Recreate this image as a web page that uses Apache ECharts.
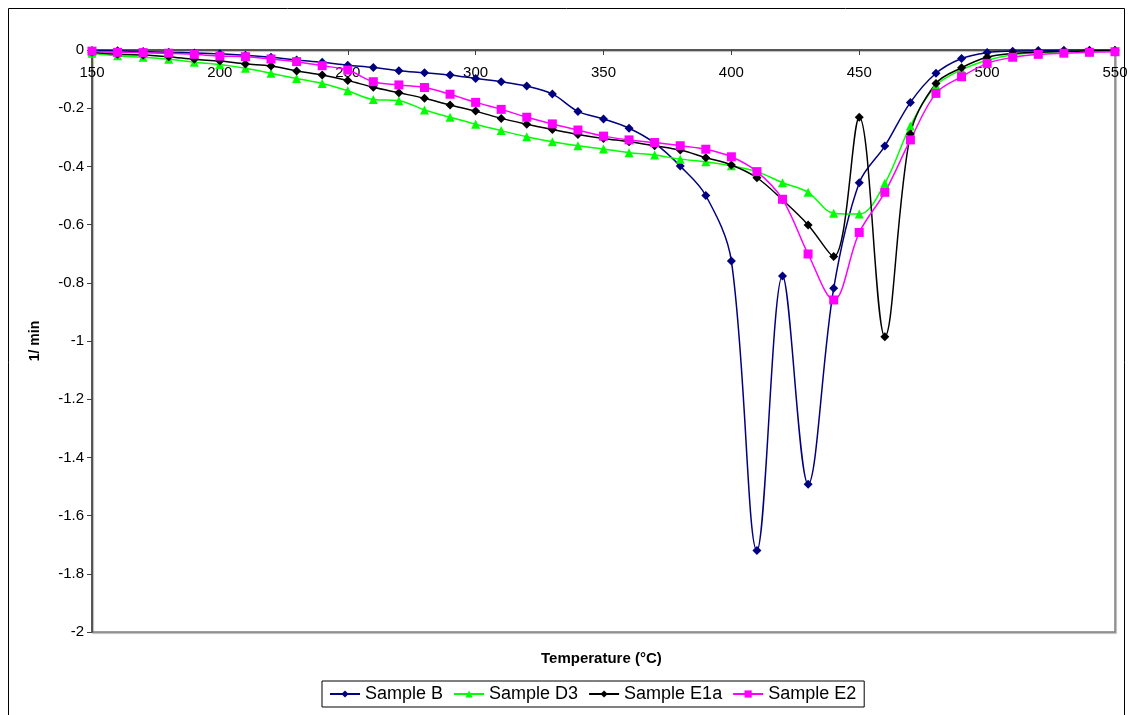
<!DOCTYPE html>
<html>
<head>
<meta charset="utf-8">
<script src="https://cdn.jsdelivr.net/npm/echarts@6/dist/echarts.min.js"></script>
<style>
  html, body { margin: 0; padding: 0; background: #fff; }
  #chart { width: 1132px; height: 715px; }
</style>
</head>
<body>
<div id="chart"></div>
<script>
// Temperature steps (°C)
const temperatures = [150,160,170,180,190,200,210,220,230,240,250,260,270,280,290,300,310,320,330,340,350,
  360,370,380,390,400,410,420,430,440,450,460,470,480,490,500,510,520,530,540,550];

// Rate values (1/min) per sample
const sampleB = [-0.002,-0.003,-0.005,-0.008,-0.010,-0.013,-0.018,-0.025,-0.034,-0.042,-0.052,-0.060,-0.071,-0.078,-0.086,-0.098,-0.109,-0.124,-0.151,-0.211,-0.237,
  -0.269,-0.320,-0.399,-0.500,-0.725,-1.720,-0.777,-1.492,-0.819,-0.456,-0.330,-0.180,-0.080,-0.029,-0.009,-0.004,-0.002,-0.001,-0.001,-0.001];
const sampleD3 = [-0.011,-0.020,-0.025,-0.032,-0.042,-0.050,-0.063,-0.080,-0.098,-0.115,-0.140,-0.170,-0.174,-0.206,-0.231,-0.255,-0.277,-0.298,-0.315,-0.329,-0.340,
  -0.353,-0.361,-0.375,-0.384,-0.398,-0.418,-0.456,-0.489,-0.561,-0.564,-0.458,-0.261,-0.122,-0.068,-0.035,-0.016,-0.009,-0.005,-0.003,-0.002];
const sampleE1a = [-0.008,-0.015,-0.017,-0.023,-0.032,-0.038,-0.048,-0.055,-0.072,-0.086,-0.105,-0.128,-0.147,-0.166,-0.189,-0.210,-0.235,-0.255,-0.273,-0.290,-0.304,
  -0.315,-0.329,-0.344,-0.370,-0.395,-0.439,-0.515,-0.601,-0.710,-0.231,-0.985,-0.289,-0.115,-0.061,-0.025,-0.012,-0.008,-0.005,-0.003,-0.002];
const sampleE2 = [-0.004,-0.008,-0.009,-0.011,-0.015,-0.021,-0.023,-0.031,-0.040,-0.054,-0.069,-0.109,-0.120,-0.129,-0.152,-0.180,-0.204,-0.231,-0.254,-0.275,-0.296,
  -0.309,-0.318,-0.329,-0.341,-0.367,-0.418,-0.513,-0.701,-0.859,-0.627,-0.489,-0.309,-0.149,-0.092,-0.046,-0.025,-0.015,-0.011,-0.008,-0.006];

const xTicks = { min: 150, max: 550, step: 50 };
const yTicks = { min: -2, max: 0, step: 0.2 };

const FONT = 'Arial, "Liberation Sans", sans-serif';

function pairs(vals) {
  return temperatures.map((t, i) => [t, vals[i]]);
}

function makeSeries(name, vals, color, symbol, size) {
  return {
    name: name,
    type: 'line',
    data: pairs(vals),
    smooth: 0.35,
    symbol: symbol,
    symbolSize: size,
    lineStyle: { color: color, width: 1.5 },
    itemStyle: { color: color },
    emphasis: { disabled: true },
    z: 3
  };
}

const chart = echarts.init(document.getElementById('chart'), null, { renderer: 'canvas' });

chart.setOption({
  animation: false,
  backgroundColor: '#ffffff',
  textStyle: { fontFamily: FONT },
  grid: {
    left: 92, right: 17, top: 50, bottom: 83,
    show: true, borderColor: '#808080', borderWidth: 1.5,
    shadowColor: 'rgba(0,0,0,0.35)', shadowOffsetX: 1, shadowOffsetY: 1, shadowBlur: 1
  },
  xAxis: {
    type: 'value',
    position: 'top',
    min: xTicks.min, max: xTicks.max, interval: xTicks.step,
    axisLine: { onZero: false, lineStyle: { color: '#404040', width: 1.5 } },
    axisTick: { show: true, inside: true, length: 5, lineStyle: { color: '#404040' } },
    axisLabel: { inside: true, margin: 15, color: '#000', fontSize: 15, fontFamily: FONT },
    splitLine: { show: false }
  },
  yAxis: {
    type: 'value',
    min: yTicks.min, max: yTicks.max, interval: yTicks.step,
    name: '1/ min',
    nameLocation: 'middle',
    nameGap: 50,
    nameRotate: 90,
    nameTextStyle: { fontWeight: 'bold', fontSize: 14, color: '#000', fontFamily: FONT },
    axisLine: { onZero: false, lineStyle: { color: '#404040', width: 1.5 } },
    axisTick: { show: true, inside: false, length: 5, lineStyle: { color: '#404040' } },
    axisLabel: { margin: 8, color: '#000', fontSize: 15, fontFamily: FONT },
    splitLine: { show: false }
  },
  legend: {
    left: 322,
    bottom: 8,
    orient: 'horizontal',
    borderColor: '#000',
    borderWidth: 1,
    borderRadius: 0,
    padding: [4, 8, 4, 7],
    itemGap: 10,
    itemWidth: 30,
    itemHeight: 9,
    textStyle: { fontSize: 18, color: '#000', fontFamily: FONT },
    data: ['Sample B', 'Sample D3', 'Sample E1a', 'Sample E2']
  },
  graphic: [
    {
      type: 'text',
      left: 541, top: 651,
      style: { text: 'Temperature (°C)', font: 'bold 15px ' + FONT, fill: '#000' }
    },
    {
      type: 'rect',
      shape: { x: 8.5, y: 8.5, width: 1116, height: 720 },
      style: { fill: 'none', stroke: '#000', lineWidth: 1 },
      silent: true
    }
  ],
  series: [
    makeSeries('Sample B', sampleB, '#000080', 'diamond', 9),
    makeSeries('Sample D3', sampleD3, '#00ff00', 'triangle', 9),
    makeSeries('Sample E1a', sampleE1a, '#000000', 'diamond', 9),
    makeSeries('Sample E2', sampleE2, '#ff00ff', 'rect', 9)
  ]
});
</script>
</body>
</html>
